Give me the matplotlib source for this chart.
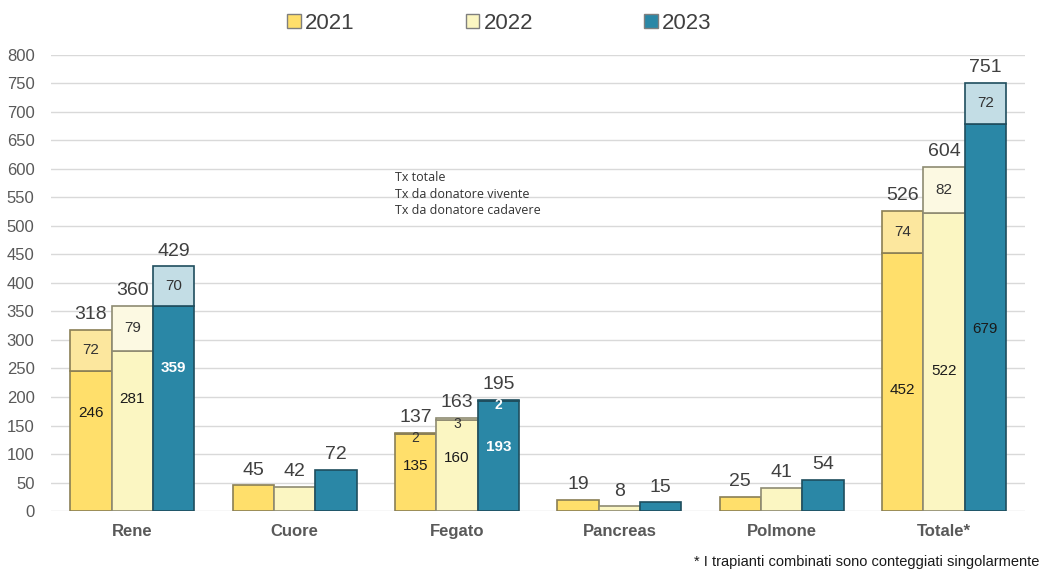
import numpy as np
import matplotlib.pyplot as plt
from matplotlib.patches import Patch

plt.rcParams["font.family"] = ["Liberation Sans", "DejaVu Sans"]

categories = ["Rene", "Cuore", "Fegato", "Pancreas", "Polmone", "Totale*"]
years = ["2021", "2022", "2023"]

# total transplants per organ and year
totals = {
    "2021": [318, 45, 137, 19, 25, 526],
    "2022": [360, 42, 163, 8, 41, 604],
    "2023": [429, 72, 195, 15, 54, 751],
}
# living donor part (None = not split)
living = {
    "2021": [72, None, 2, None, None, 74],
    "2022": [79, None, 3, None, None, 82],
    "2023": [70, None, 2, None, None, 72],
}
# deceased donor part
deceased = {
    "2021": [246, None, 135, None, None, 452],
    "2022": [281, None, 160, None, None, 522],
    "2023": [359, None, 193, None, None, 679],
}

base_colors = {"2021": "#FFDF6B", "2022": "#FBF6C2", "2023": "#2A87A6"}
top_colors = {"2021": "#FCE79E", "2022": "#FCF9E2", "2023": "#C3DDE5"}
edge_colors = {"2021": "#8A7F55", "2022": "#8E8B72", "2023": "#1F4E5E"}
# where the deceased-donor label sits inside its segment (fraction of height)
label_frac = [0.7, 0.5, 0.58, 0.5, 0.5, 0.47]

fig = plt.figure(figsize=(10.45, 5.71), dpi=100)
ax = fig.add_axes([0.049, 0.105, 0.932, 0.799])

x = np.arange(len(categories))
w = 0.255
offsets = [-w, 0, w]

for k, yr in enumerate(years):
    xs = x + offsets[k]
    for i in range(len(categories)):
        tot = totals[yr][i]
        dec = deceased[yr][i]
        liv = living[yr][i]
        if dec is None:
            ax.bar(xs[i], tot, width=w, color=base_colors[yr],
                   edgecolor=edge_colors[yr], linewidth=1.2, zorder=3)
        else:
            ax.bar(xs[i], dec, width=w, color=base_colors[yr],
                   edgecolor=edge_colors[yr], linewidth=1.2, zorder=3)
            ax.bar(xs[i], liv, bottom=dec, width=w, color=top_colors[yr],
                   edgecolor=edge_colors[yr], linewidth=1.2, zorder=3)
            # inner labels
            white = (yr == "2023" and categories[i] != "Totale*")
            ax.text(xs[i], dec * label_frac[i],
                    str(dec), ha="center", va="center", fontsize=11,
                    color="white" if white else "#1a1a1a",
                    fontweight="bold" if white else "normal", zorder=5)
            ly = dec + liv / 2 if liv > 10 else dec - 7
            small_white = (yr == "2023" and liv < 10)
            ax.text(xs[i], ly, str(liv), ha="center", va="center",
                    fontsize=11 if liv > 10 else 10,
                    color="white" if small_white else "#333333",
                    fontweight="bold" if small_white else "normal",
                    zorder=5)
        ax.text(xs[i], tot + 12, str(tot), ha="center", va="bottom",
                fontsize=14, color="#404040", zorder=5)

ax.set_xlim(-0.5, 5.5)
ax.set_ylim(0, 800)
ax.set_yticks(np.arange(0, 801, 50))
ax.yaxis.grid(True, color="#D9D9D9", linewidth=1.0, zorder=0)
ax.set_axisbelow(True)
for s in ax.spines.values():
    s.set_visible(False)
ax.tick_params(axis="y", length=0, labelsize=12, labelcolor="#595959", pad=12)
ax.tick_params(axis="x", length=0, pad=9)
ax.set_xticks(x)
ax.set_xticklabels(categories, fontsize=12, fontweight="bold", color="#595959")

ax.text(0.353, 0.745, "Tx totale\nTx da donatore vivente\nTx da donatore cadavere",
        transform=ax.transAxes, fontsize=9, color="#333333",
        va="top", ha="left", linespacing=1.35, family=["Open Sans", "DejaVu Sans"])

handles = [Patch(facecolor=base_colors[yr], edgecolor="#7F7F7F") for yr in years]
fig.legend(handles, years, loc="upper center", bbox_to_anchor=(0.478, 1.012),
           ncol=3, frameon=False, fontsize=16, handlelength=0.6, handleheight=0.6,
           handletextpad=0.2, columnspacing=5.0, labelcolor="#404040")

fig.text(0.995, 0.003, "* I trapianti combinati sono conteggiati singolarmente",
         ha="right", va="bottom", fontsize=10.5, color="#1a1a1a")

fig.savefig("out.png", dpi=100)
